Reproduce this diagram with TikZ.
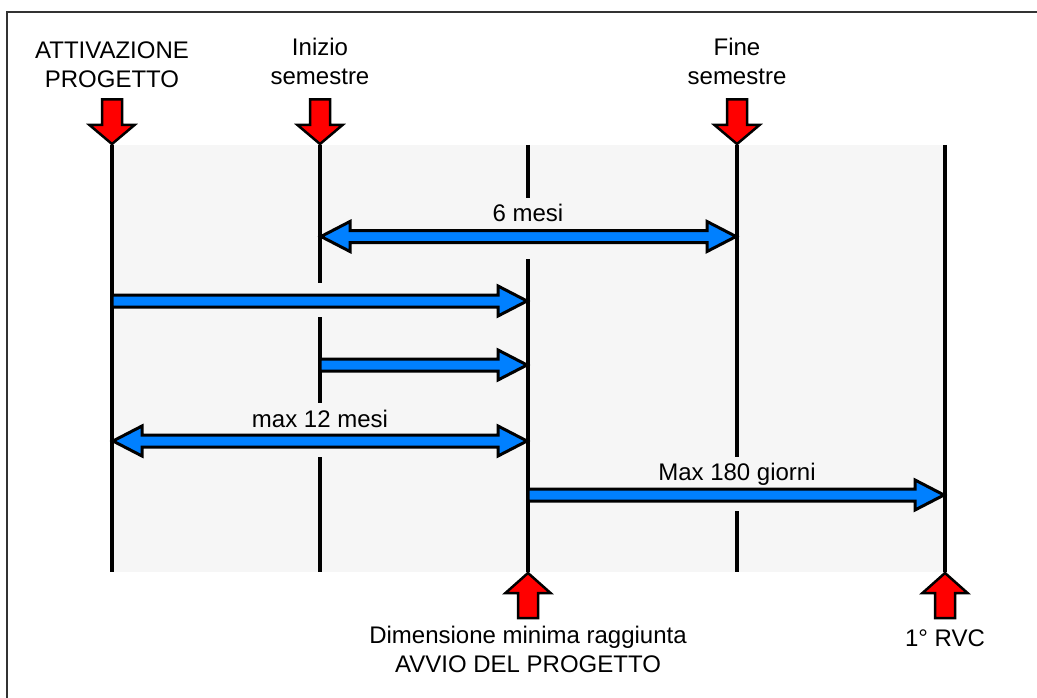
\documentclass[tikz,border=0pt]{standalone}
\usepackage{fontspec}
\setmainfont{Liberation Sans}
\definecolor{arrblue}{RGB}{0,128,255}
\definecolor{bggray}{RGB}{246,246,246}
\definecolor{framec}{RGB}{51,51,51}
\newcommand\rightBlue[3]{%
  \draw[bluearr] (#1,#3-6) -- (#2-30,#3-6) -- (#2-30,#3-15) -- (#2-1,#3) -- (#2-30,#3+15) -- (#2-30,#3+6) -- (#1,#3+6) -- cycle;}
\newcommand\bothBlue[3]{%
  \draw[bluearr] (#1+1,#3) -- (#1+30,#3-15) -- (#1+30,#3-6) -- (#2-30,#3-6) -- (#2-30,#3-15) -- (#2-1,#3) -- (#2-30,#3+15) -- (#2-30,#3+6) -- (#1+30,#3+6) -- (#1+30,#3+15) -- cycle;}
\newcommand\redDown[1]{%
  \draw[redarr] (#1-10,99.5) -- (#1+10,99.5) -- (#1+10,125) -- (#1+22.5,125) -- (#1,144) -- (#1-22.5,125) -- (#1-10,125) -- cycle;}
\newcommand\redUp[1]{%
  \draw[redarr] (#1-10,618) -- (#1+10,618) -- (#1+10,593) -- (#1+22.5,593) -- (#1,573) -- (#1-22.5,593) -- (#1-10,593) -- cycle;}
\begin{document}
\begin{tikzpicture}[x=1pt,y=-1pt,
  tline/.style={line width=4.5pt},
  bluearr/.style={fill=arrblue,draw=black,line width=3pt,line join=miter},
  redarr/.style={fill=red,draw=black,line width=2.5pt,line join=miter},
  lbl/.style={font=\fontsize{24}{29}\selectfont,inner sep=0pt,align=center,anchor=base}]
\useasboundingbox (0,0) rectangle (1037,698);
\fill[white] (0,0) rectangle (1037,698);
\draw[framec,line width=2pt] (7,698) -- (7,12) -- (1037,12);
\fill[bggray] (112,145) rectangle (945,572);
% timeline coordinates
\coordinate (a0) at (112,145); \coordinate (a1) at (112,572);
\coordinate (b0) at (320,145); \coordinate (b1) at (320,283);
\coordinate (b2) at (320,317); \coordinate (b3) at (320,403);
\coordinate (b4) at (320,457); \coordinate (b5) at (320,572);
\coordinate (c0) at (528,145); \coordinate (c1) at (528,198);
\coordinate (c2) at (528,259); \coordinate (c3) at (528,572);
\coordinate (d0) at (737,145); \coordinate (d1) at (737,457);
\coordinate (d2) at (737,511); \coordinate (d3) at (737,572);
\coordinate (e0) at (945,145); \coordinate (e1) at (945,572);
\draw[tline] (a0) -- (a1);
\draw[tline] (b0) -- (b1) (b2) -- (b3) (b4) -- (b5);
\draw[tline] (c0) -- (c1) (c2) -- (c3);
\draw[tline] (d0) -- (d1) (d2) -- (d3);
\draw[tline] (e0) -- (e1);
% blue arrows
\bothBlue{320}{737}{236.5}
\rightBlue{112}{528}{301}
\rightBlue{320}{528}{365}
\bothBlue{112}{528}{441}
\rightBlue{528}{945}{495}
\node[lbl] (l6) at (528,222) {6 mesi};
\node[lbl] (l12) at (320,427) {max 12 mesi};
\node[lbl] (l180) at (737,480) {Max 180 giorni};
% red arrows
\redDown{112}
\redDown{320}
\redDown{737}
\redUp{528}
\redUp{945}
% labels (base anchor = baseline of last line)
\node[lbl] (t1) at (112,88) {ATTIVAZIONE\\PROGETTO};
\node[lbl] (t2) at (320,85) {Inizio\\semestre};
\node[lbl] (t3) at (737,85) {Fine\\semestre};
\node[lbl] (t4) at (528,672) {Dimensione minima raggiunta\\AVVIO DEL PROGETTO};
\node[lbl] (t5) at (945,646.5) {1° RVC};
\end{tikzpicture}
\end{document}
